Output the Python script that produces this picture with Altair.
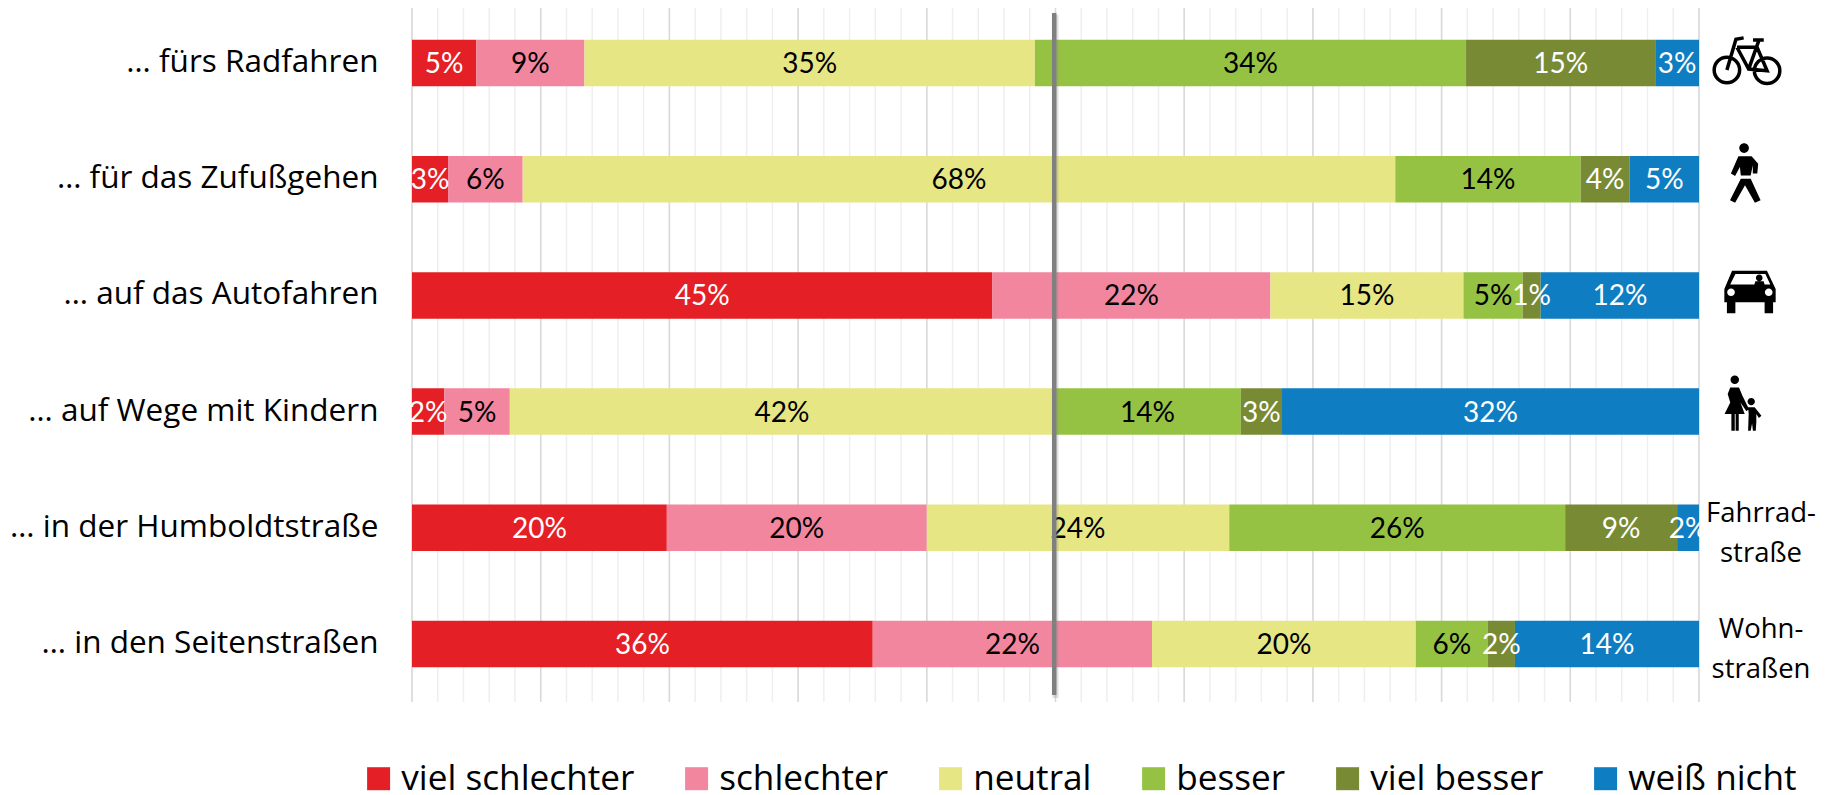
import altair as alt
import pandas as pd

FONT = "Lato"
WIDE = "Open Sans"
rows = ["… fürs Radfahren", "… für das Zufußgehen", "… auf das Autofahren",
        "… auf Wege mit Kindern", "… in der Humboldtstraße", "… in den Seitenstraßen"]
cats = ["viel schlechter", "schlechter", "neutral", "besser", "viel besser", "weiß nicht"]
colors = ["#E42026", "#F2869F", "#E6E685", "#95C243", "#788A34", "#0F7DC2"]
text_colors = ["white", "black", "black", "black", "white", "white"]

# bar widths (percent)
widths = [
    [5.0, 8.4, 35.0, 33.5, 14.7, 3.4],
    [2.8, 5.8, 67.8, 14.4, 3.8, 5.4],
    [45.1, 21.6, 15.0, 4.6, 1.4, 12.3],
    [2.5, 5.1, 42.3, 14.5, 3.2, 32.4],
    [19.8, 20.2, 23.5, 26.1, 8.7, 1.7],
    [35.8, 21.7, 20.5, 5.6, 2.1, 14.3],
]
# printed labels
labels = [
    [5, 9, 35, 34, 15, 3],
    [3, 6, 68, 14, 4, 5],
    [45, 22, 15, 5, 1, 12],
    [2, 5, 42, 14, 3, 32],
    [20, 20, 24, 26, 9, 2],
    [36, 22, 20, 6, 2, 14],
]
grid_minor = list(range(0, 101, 2))
grid_major = list(range(0, 101, 10))
side_rows = [rows[4], rows[5]]
side_text = [["Fahrrad-", "straße"], ["Wohn-", "straßen"]]

recs = []
for r, ws, ls in zip(rows, widths, labels):
    s = 0.0
    for i, (c, w, l) in enumerate(zip(cats, ws, ls)):
        recs.append(dict(row=r, cat=c, start=s, end=s + w, mid=s + w / 2, label=f"{l}%", tc=text_colors[i]))
        s += w
df = pd.DataFrame(recs)

x_scale = alt.Scale(domain=[0, 100], range=[0, 1287], nice=False, zero=False)
y_scale = alt.Scale(domain=rows, range=[-3, 694], paddingInner=0.6, paddingOuter=0.3)
X = lambda f: alt.X(f, type="quantitative", scale=x_scale, axis=None)

minor = alt.Chart(pd.DataFrame({"v": grid_minor})).mark_rule(color="#EFEFEF", strokeWidth=1.5).encode(
    x=X("v"), y=alt.value(0), y2=alt.value(694))
major = alt.Chart(pd.DataFrame({"v": grid_major})).mark_rule(color="#D9D9D9", strokeWidth=1.5).encode(
    x=X("v"), y=alt.value(0), y2=alt.value(694))

bars = alt.Chart(df).mark_bar(stroke=None).encode(
    x=X("start"), x2="end",
    y=alt.Y("row:N", scale=y_scale, title=None, sort=rows,
            axis=alt.Axis(domain=False, ticks=False, labelPadding=34, labelFontSize=31.5, labelFont=WIDE,
                          labelColor="black", labelLimit=500, grid=False)),
    color=alt.Color("cat:N", scale=alt.Scale(domain=cats, range=colors), legend=alt.Legend(
        title=None, orient="none", legendX=-51, legendY=753, direction="horizontal", columns=6,
        symbolType="square", symbolSize=529, symbolStrokeWidth=0, symbolOpacity=1, labelFont=WIDE, labelFontSize=35.2,
        labelColor="black", labelOffset=5, columnPadding=44, labelLimit=400)),
    order=alt.Order("start:Q"),
)
seg_text = alt.Chart(df).mark_text(font=FONT, fontSize=28, dy=2).encode(
    x=X("mid"), y=alt.Y("row:N", scale=y_scale, sort=rows),
    text="label:N", color=alt.Color("tc:N", scale=None))

vshadow = alt.Chart(pd.DataFrame({"v": [50.0]})).mark_rule(color="#808080", strokeWidth=6, opacity=0.25).encode(
    x=X("v"), y=alt.value(7), y2=alt.value(690))
vline = alt.Chart(pd.DataFrame({"v": [49.9]})).mark_rule(color="#808080", strokeWidth=4.5).encode(
    x=X("v"), y=alt.value(5), y2=alt.value(687))

side = alt.Chart(pd.DataFrame({"row": side_rows, "t": side_text})).mark_text(
    font=WIDE, fontSize=27.5, lineHeight=40, dy=-14, color="black").encode(
    x=alt.value(1349), y=alt.Y("row:N", scale=y_scale, sort=rows), text="t")

circ = lambda x, y, r, sw=1: f"M{x-r} {y}A{r} {r} 0 1 {sw} {x+r} {y}A{r} {r} 0 1 {sw} {x-r} {y}Z"
poly = lambda pts: "M" + "L".join(f"{a} {b}" for a, b in pts) + "Z"

bike = (circ(-0.6, 0.3, 0.38) + circ(0.6, 0.32, 0.38)
        + "M-0.6 0.3L-0.33 -0.62L-0.1 -0.66M-0.3 -0.38L0.3 -0.38M0.18 -0.6L0.5 -0.6M0.36 -0.6L0.05 0.27"
        + "M-0.3 -0.38L0.05 0.27L0.6 0.32L0.3 -0.38")
walker = (circ(-0.03, -0.83, 0.16)
          + poly([(-.22, -.56), (.22, -.56), (.44, -.31), (.41, .02), (.26, .02), (.26, -.26), (.19, .08),
                  (-.14, .08), (-.17, -.2), (-.33, .1), (-.47, .02)])
          + poly([(-.14, .19), (.19, .19), (.52, .91), (.33, .99), (0, .41), (-.33, .99), (-.5, .91)]))
car = (poly([(-.70, -.83), (.66, -.83), (1, -.12), (1, .40), (-1, .40), (-1, -.12)])
       + poly([(-.57, -.70), (-.77, -.29), (.79, -.29), (.6, -.70)])
       + circ(-.74, .01, .15, 0) + circ(.73, .01, .15, 0)
       + circ(.36, -.55, .13)
       + poly([(.17, -.29), (.21, -.42), (.53, -.42), (.57, -.29)])
       + poly([(-.9, .4), (-.57, .4), (-.57, .83), (-.9, .83)])
       + poly([(.57, .4), (.9, .4), (.9, .83), (.57, .83)]))
family = (circ(-.29, -.82, .15)
          + poly([(-.45, -.55), (-.14, -.55), (-.02, -.26), (.21, .21), (.12, .29), (-.09, -.02), (.06, .39),
                  (-.65, .39), (-.45, -.02), (-.54, -.32)])
          + poly([(-.41, .39), (-.29, .39), (-.29, .98), (-.41, .98)])
          + poly([(-.26, .39), (-.15, .39), (-.15, .98), (-.26, .98)])
          + circ(.29, -.05, .13)
          + poly([(.18, .15), (.41, .15), (.65, .45), (.56, .53), (.47, .39), (.47, .68), (.45, .98), (.35, .98),
                  (.32, .72), (.27, .98), (.18, .98), (.2, .39)]))

def icon(path, px, py, span):
    return alt.Chart(pd.DataFrame({"k": [0]})).mark_point(
        shape=path, size=span * span, filled=True, fill="black", stroke="black",
        strokeWidth=0, opacity=1).encode(x=alt.value(px - 412), y=alt.value(py - 8))

icons = [
    alt.Chart(pd.DataFrame({"k": [0]})).mark_point(shape=bike, size=67 * 67, filled=False, stroke="black",
                                                   strokeWidth=3.5, opacity=1).encode(
        x=alt.value(1747 - 412), y=alt.value(60 - 8)),
    icon(walker, 1745, 173, 60),
    icon(car, 1750, 292, 51.3),
    icon(family, 1743, 403, 56.7),
]

chart = alt.layer(minor, major, bars, seg_text, side, *icons, vshadow, vline).resolve_scale(color="independent").properties(
    width=1287, height=694,
    padding={"left": 404, "top": 0, "right": 126, "bottom": 93},
    autosize=alt.AutoSizeParams(type="none"),
).configure_view(stroke=None)

chart.save("out.html", embed_options={"renderer": "svg", "actions": False})
